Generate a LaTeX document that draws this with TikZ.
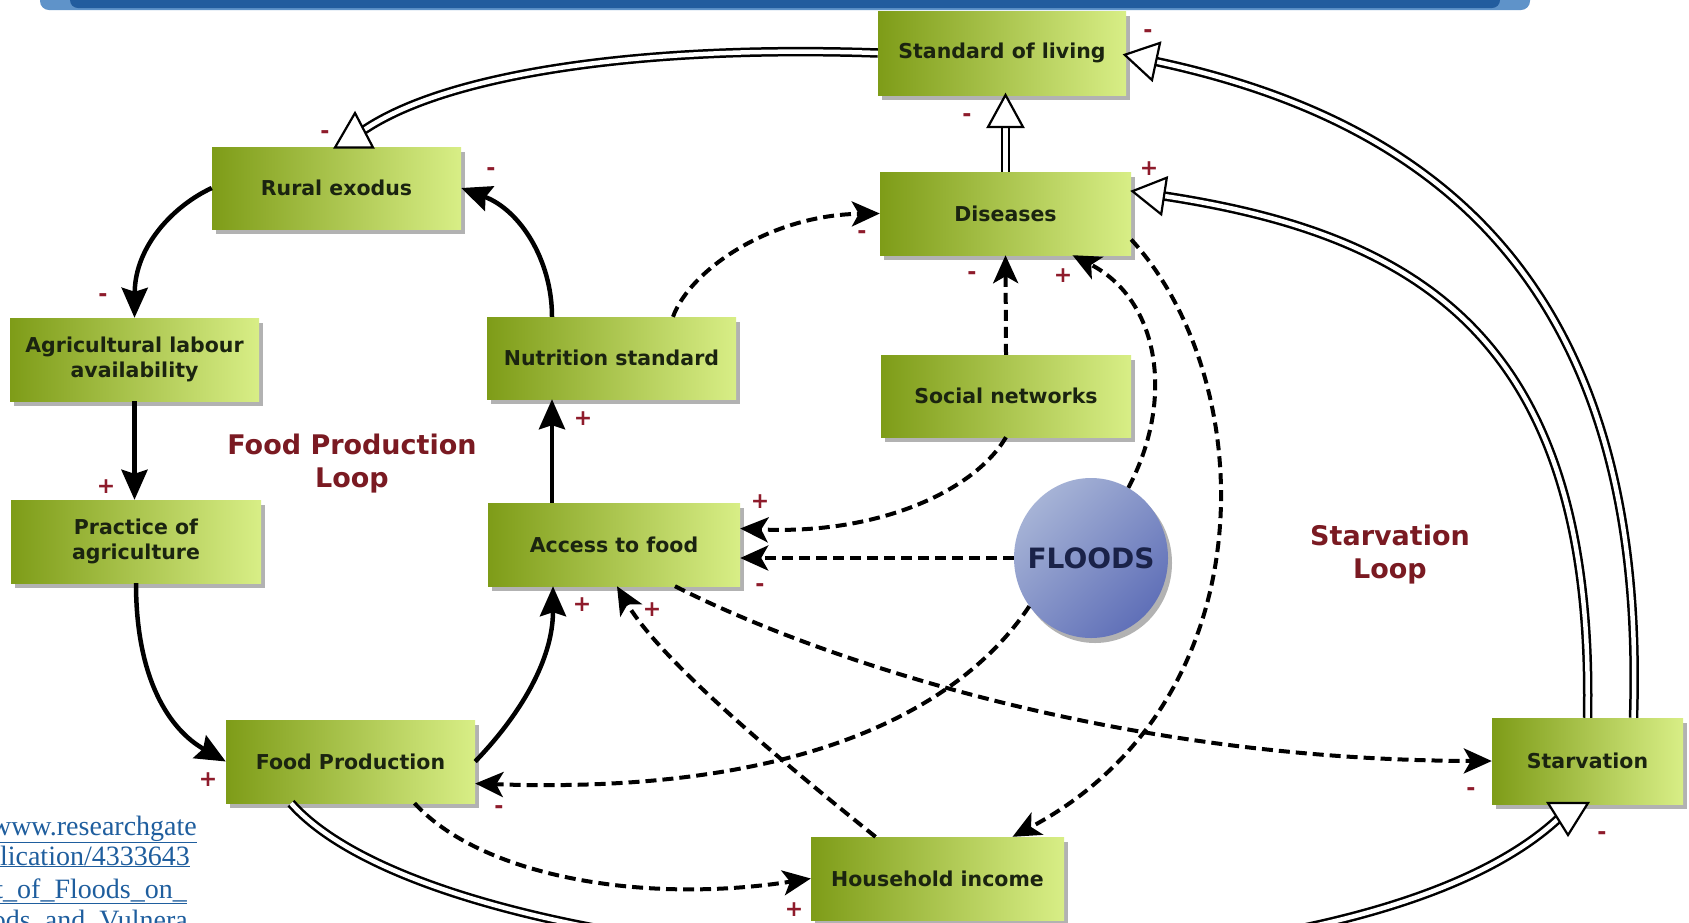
\documentclass[tikz,border=0pt]{standalone}
\usepackage{fontspec}
\setmainfont{Liberation Serif}
\newfontfamily\dvs{DejaVu Sans}
\usetikzlibrary{arrows.meta,shapes.geometric,shadows}
\definecolor{boxL}{HTML}{7E9C18}
\definecolor{boxR}{HTML}{D8EE86}
\definecolor{boxtxt}{HTML}{1B2410}
\definecolor{signred}{HTML}{8E1B2B}
\definecolor{looptxt}{HTML}{7A1A22}
\definecolor{linkblue}{HTML}{1F5E9E}
\definecolor{floodL}{HTML}{A6B3D6}
\definecolor{floodD}{HTML}{6070B8}
\definecolor{floodtxt}{HTML}{1A2248}
\definecolor{bandD}{HTML}{225C9E}
\definecolor{bandL}{HTML}{5F93C9}
\begin{document}
\begin{tikzpicture}[x=1pt,y=-1pt,
  cldbox/.style={rectangle, inner sep=0pt, left color=boxL, right color=boxR,
    text=boxtxt, align=center, font=\dvs\bfseries\fontsize{20.5}{24.5}\selectfont,
    drop shadow={shadow xshift=4pt, shadow yshift=-5pt, opacity=0.3, fill=black}},
  floodnode/.style={ellipse, inner sep=0pt, minimum width=154pt, minimum height=160pt,
    top color=floodL, bottom color=floodD, shading angle=45,
    drop shadow={shadow xshift=4pt, shadow yshift=-5pt, opacity=0.3, fill=black}},
  floodlbl/.style={text=floodtxt, inner sep=0pt, font=\dvs\bfseries\fontsize{28}{28}\selectfont},
  solidarr/.style={draw=black, line width=4.5pt, -{Stealth[length=30pt,width=26pt,inset=4pt]}},
  dasharr/.style={draw=black, line width=4pt, dash pattern=on 11pt off 6pt,
    -{Stealth[length=28pt,width=25pt,inset=7pt]}},
  dblshaft/.style={draw=white, line width=4.5pt, preaction={draw=black, line width=9.5pt}},
  tri/.style={draw=black, fill=white, line width=2.2pt, line join=miter},
  sgn/.style={text=signred, font=\dvs\bfseries\fontsize{22}{22}\selectfont, inner sep=0pt},
  looplbl/.style={text=looptxt, align=center, font=\dvs\bfseries\fontsize{27}{33}\selectfont},
  linktxt/.style={text=linkblue, inner sep=0pt, font=\fontsize{28}{28}\selectfont}
]
\useasboundingbox (0,0) rectangle (1689,922);
\fill[white] (0,0) rectangle (1689,922);
% top band
\fill[bandL, rounded corners=9pt] (40,-20) rectangle (1530,10);
\fill[bandD, rounded corners=8pt] (70,-20) rectangle (1500,8);

% nodes
\node[cldbox, minimum width=248pt, minimum height=84pt] (soliv) at (1002,53) {Standard of living};
\node[cldbox, minimum width=249pt, minimum height=82pt] (rural) at (336.5,188) {Rural exodus};
\node[cldbox, minimum width=251pt, minimum height=83pt] (dis) at (1005.5,213.5) {Diseases};
\node[cldbox, minimum width=249pt, minimum height=83pt] (ag) at (134.5,359.5) {Agricultural labour\\availability};
\node[cldbox, minimum width=249pt, minimum height=82pt] (nutr) at (611.5,358) {Nutrition standard};
\node[cldbox, minimum width=250pt, minimum height=82pt] (soc) at (1006,396) {Social networks};
\node[cldbox, minimum width=250pt, minimum height=83pt] (prac) at (136,541.5) {Practice of\\agriculture};
\node[cldbox, minimum width=252pt, minimum height=83pt] (access) at (614,544.5) {Access to food};
\node[cldbox, minimum width=249pt, minimum height=83pt] (fp) at (350.5,761.5) {Food Production};
\node[cldbox, minimum width=191pt, minimum height=86pt] (starv) at (1587.5,761) {Starvation};
\node[cldbox, minimum width=253pt, minimum height=83pt] (hh) at (937.5,878.5) {Household income};
\node[floodnode] (floods) at (1091,558) {};
\node[floodlbl] (floodstxt) at (floods.center) {FLOODS};

% loop labels
\node[looplbl] (fpl) at (352,463.5) {Food Production\\Loop};
\node[looplbl] (stl) at (1390,555) {Starvation\\Loop};

% solid arrows (food production loop)
\draw[solidarr] (rural.west) .. controls (175,205) and (135,245) .. (ag.north);
\draw[solidarr] (ag.south) -- (ag.south |- prac.north);
\draw[solidarr] (prac.south) .. controls (136,680) and (170,730) .. (fp.west);
\draw[solidarr] (fp.east) .. controls (520,715) and (553,660) .. ([xshift=-61pt]access.south);
\draw[solidarr] ([xshift=-62pt]access.north) -- ([xshift=-59.5pt]nutr.south);
\draw[solidarr] ([xshift=-59.5pt]nutr.north) .. controls (552,260) and (520,210) .. (rural.east);

% dashed arrows
\draw[dasharr] ([xshift=61.5pt]nutr.north) .. controls (690,270) and (770,215) .. (dis.west);
\draw[dasharr] (soc.north) -- (dis.south);
\draw[dasharr] (floods.62) .. controls (1175,400) and (1160,300) .. ([xshift=67pt]dis.south);
\draw[dasharr] ([yshift=-26pt]dis.east) .. controls (1260,380) and (1270,700) .. ([xshift=75pt]hh.north);
\draw[dasharr] (soc.south) .. controls (975,490) and (880,535) .. ([yshift=16pt]access.east);
\draw[dasharr] (floods.west) -- (floods.west -| access.east);
\draw[dasharr] (floods.218) .. controls (960,710) and (800,795) .. ([yshift=-22pt]fp.east);
\draw[dasharr] ([xshift=61pt]access.south) .. controls (800,650) and (1100,760) .. (starv.west);
\draw[dasharr] ([xshift=-62pt]hh.north) .. controls (780,760) and (660,660) .. ([xshift=3pt]access.south);
\draw[dasharr] ([xshift=64pt]fp.south) .. controls (480,875) and (640,905) .. (hh.west);

% double-line connectors with hollow triangles
\coordinate (tDa) at (364,130);
\draw[dblshaft] (soliv.west) .. controls (650,45) and (450,72) .. (tDa);
\draw[tri] (335,147.5) -- (355,113) -- (373,147.5) -- cycle;

\coordinate (tAa) at (1005.5,127);
\draw[dblshaft] (dis.north) -- (tAa);
\draw[tri] (1005.5,95) -- (988,127) -- (1023,127) -- cycle;

\coordinate (tCa) at (1164,196);
\draw[dblshaft] (starv.north) .. controls (1595,340) and (1420,235) .. (tCa);
\draw[tri] (1132.4,191.2) -- (1161.2,214.3) -- (1166.8,177.7) -- cycle;

\coordinate (tBa) at (1156,61.5);
\draw[dblshaft] ([xshift=46pt]starv.north) .. controls (1648,280) and (1430,120) .. (tBa);
\draw[tri] (1124.7,54.8) -- (1152,80.1) -- (1160,42.9) -- cycle;

\coordinate (tEa) at (1558,819);
\draw[dblshaft] ([xshift=-59.5pt]fp.south) .. controls (455,988) and (1330,1030) .. (tEa);
\draw[tri] (1548,803) -- (1588,803) -- (1568,835) -- cycle;

% polarity signs
\node[sgn] (p1) at (325,135) {-};
\node[sgn] (p2) at (491,172) {-};
\node[sgn] (p3) at (103,298) {-};
\node[sgn] (p4) at (106,487) {+};
\node[sgn] (p5) at (208,780) {+};
\node[sgn] (p6) at (582,605) {+};
\node[sgn] (p7) at (583,419) {+};
\node[sgn] (p8) at (652,610) {+};
\node[sgn] (p9) at (967,118) {-};
\node[sgn] (p10) at (1148,34) {-};
\node[sgn] (p11) at (1149,169) {+};
\node[sgn] (p12) at (862,235) {-};
\node[sgn] (p13) at (972,276) {-};
\node[sgn] (p14) at (1063,276) {+};
\node[sgn] (p15) at (760,502) {+};
\node[sgn] (p16) at (760,588) {-};
\node[sgn] (p17) at (499,810) {-};
\node[sgn] (p18) at (1471,792) {-};
\node[sgn] (p19) at (1602,836) {-};
\node[sgn] (p20) at (794,910) {+};

% clipped link text
\node[linktxt, anchor=base east] (l1) at (197,835) {\underline{www.researchgate}};
\node[linktxt, anchor=base east] (l2) at (190,865) {\underline{lication/4333643}};
\node[linktxt, anchor=base east] (l3) at (187,898) {\underline{t\_of\_Floods\_on\_}};
\node[linktxt, anchor=base east] (l4) at (188,929) {\underline{ods\_and\_Vulnera}};
\end{tikzpicture}
\end{document}
